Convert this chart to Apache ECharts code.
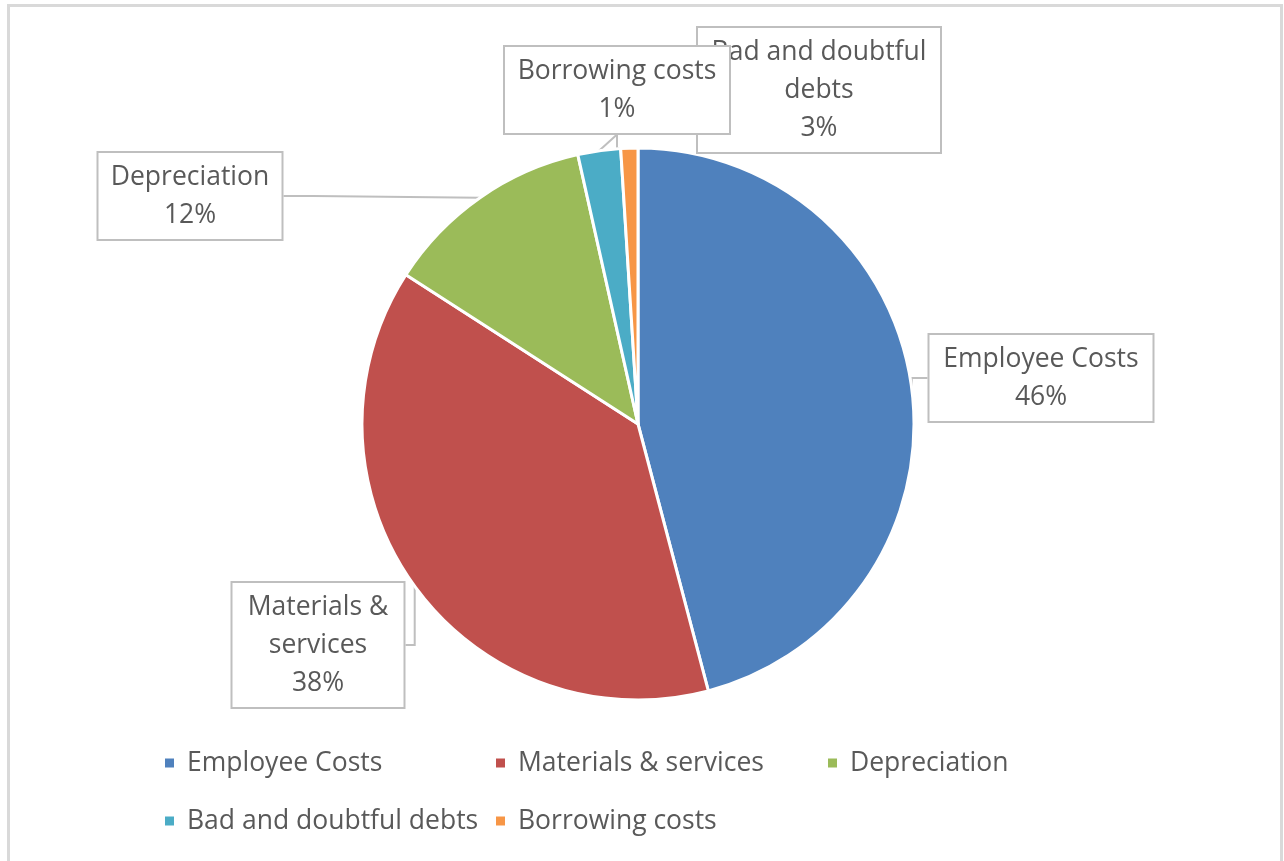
<!DOCTYPE html>
<html>
<head>
<meta charset="utf-8">
<script src="https://cdn.jsdelivr.net/npm/echarts@6/dist/echarts.min.js"></script>
<style>
html,body{margin:0;padding:0;background:#fff;}
#chart{width:1284px;height:861px;}
</style>
</head>
<body>
<div id="chart"></div>
<script>
// ---- data ----
const categories = ['Employee Costs', 'Materials & services', 'Depreciation', 'Bad and doubtful debts', 'Borrowing costs'];
const values = [45.9, 38.2, 12.4, 2.5, 1.0];
const colors = ['#4F81BD', '#C0504D', '#9BBB59', '#4BACC6', '#F79646'];
// label text as wrapped in the callouts
const labelNames = ['Employee Costs', 'Materials &\nservices', 'Depreciation', 'Bad and doubtful\ndebts', 'Borrowing costs'];

// ---- layout (styles / positions, kept apart from data) ----
const labelBoxCenters = [[1041, 378], [318, 645], [190, 196], [819, 90], [617, 90]];
const labelWidths = [203, 151, 163, 222, 204];
const legendSpots = [[163, 749], [494, 749], [826, 749], [163, 807], [494, 807]];

const chart = echarts.init(document.getElementById('chart'));
const font = '"Open Sans", "Noto Sans", sans-serif';
const fs = 26.5;

const seriesData = categories.map((name, i) => ({
  name: name,
  value: values[i],
  itemStyle: { color: colors[i] },
  label: { width: labelWidths[i] }
}));

const legends = categories.map((name, i) => ({
  data: [name],
  left: legendSpots[i][0],
  top: legendSpots[i][1],
  padding: 0,
  icon: 'rect',
  itemWidth: 11,
  itemHeight: 11,
  selectedMode: false,
  textStyle: { fontFamily: font, fontSize: fs, color: '#595959', lineHeight: 28, padding: [0, 0, 0, 7] }
}));

chart.setOption({
  animation: false,
  backgroundColor: '#fff',
  graphic: [{
    type: 'rect',
    shape: { x: 8.5, y: 5.5, width: 1273, height: 900 },
    style: { fill: 'none', stroke: '#d9d9d9', lineWidth: 3 },
    silent: true
  }],
  legend: legends,
  series: [{
    type: 'pie',
    center: [638, 424],
    radius: 276,
    startAngle: 90,
    clockwise: true,
    data: seriesData,
    itemStyle: { borderColor: '#fff', borderWidth: 3 },
    label: {
      show: true,
      position: 'outside',
      formatter: p => labelNames[p.dataIndex] + '\n' + Math.round(p.percent) + '%',
      fontFamily: font,
      fontSize: fs,
      lineHeight: 38,
      color: '#595959',
      backgroundColor: '#fff',
      borderColor: '#bfbfbf',
      borderWidth: 2,
      padding: [9, 10, 1, 10],
      overflow: 'none',
      align: 'center'
    },
    labelLine: {
      show: true,
      lineStyle: { color: '#bfbfbf', width: 2 }
    },
    labelLayout: function (params) {
      const c = labelBoxCenters[params.dataIndex];
      return { x: c[0], y: c[1], align: 'center', verticalAlign: 'middle', hideOverlap: false };
    },
    emphasis: { disabled: true }
  }]
});
</script>
</body>
</html>
